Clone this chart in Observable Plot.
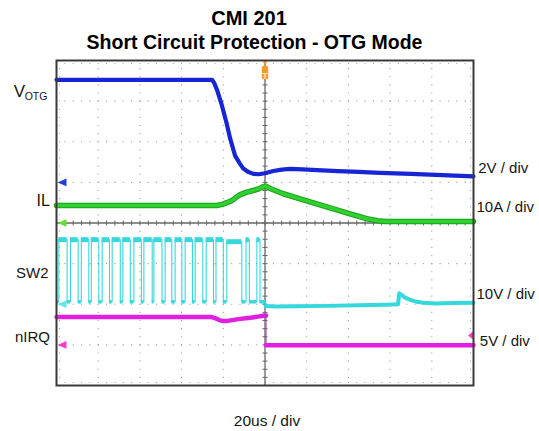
<!DOCTYPE html>
<html><head><meta charset="utf-8">
<script src="https://cdn.jsdelivr.net/npm/d3@7"></script>
<script src="https://cdn.jsdelivr.net/npm/@observablehq/plot@0.6"></script>
<style>
html,body{margin:0;padding:0;background:#fff;}
#chart{width:539px;height:431px;}
</style></head><body><div id="chart"></div>
<script>
// ---------- data ----------
const titleLines = ["CMI 201", "Short Circuit Protection - OTG Mode"];
const timeLabel = "20us / div";
const channelNames = ["V", "IL", "SW2", "nIRQ"];
const channelSub = ["OTG", "", "", ""];
const scaleLabels = ["2V / div", "10A / div", "10V / div", "5V / div"];
const unitsPerDiv = [2, 10, 10, 5];
const groundDiv = [1, 0, -2, -3];
const triggerTime = 0;
const nirqTriggerLevel = 1.15;

// VOTG (V) vs time (us)
const votgTime  = [-100, -25.4, -24.4, -23.0, -20.7, -18.5, -16.7, -14.3, -12.2, -10.4, -8.2, -5.6, -3.0, 0, 4, 8, 12, 18, 25, 35, 45, 55, 70, 85, 100];
const votgValue = [5.05, 5.05, 4.9, 4.55, 3.8, 2.95, 2.15, 1.3, 0.95, 0.68, 0.52, 0.42, 0.40, 0.45, 0.56, 0.63, 0.66, 0.64, 0.60, 0.55, 0.52, 0.47, 0.42, 0.36, 0.30];

// IL (A)
const ilTime  = [-100, -23.1, -20.5, -18.3, -15.9, -13.8, -11.9, -8.7, -5.6, -3.0, -1.0, 0.3, 2.4, 8.8, 16.8, 24.8, 32.8, 40.8, 48.8, 54, 58, 62, 100];
const ilValue = [4.3, 4.3, 4.6, 5.0, 5.5, 6.3, 7.0, 7.6, 8.0, 8.4, 8.9, 9.1, 8.5, 7.2, 5.95, 4.7, 3.5, 2.25, 1.05, 0.55, 0.35, 0.35, 0.35];

// SW2 (V) switching pulses before trigger
const sw2Rise = [-98.9, -93.3, -88.1, -83.3, -78.1, -73.3, -68.2, -62.9, -58.1, -53.3, -47.9, -43.1, -38.3, -33.5, -28.2, -23.5, -18.3, -9.1, -3.9];
const sw2Fall = [-94.9, -89.6, -84.5, -79.7, -74.6, -69.4, -64.6, -59.3, -54.1, -49.4, -44.7, -39.9, -34.8, -29.8, -24.7, -20.0, -11.1, -7.5, -2.4];
const sw2HighValue = [15.9, 15.9, 15.9, 15.9, 15.9, 15.9, 15.9, 15.9, 15.9, 15.9, 15.9, 15.9, 15.9, 15.9, 15.9, 15.9, 15.4, 15.9, 15.9];
const sw2LowValue = 0.6;
// SW2 after trigger
const sw2PostTime  = [0.3, 5, 15, 30, 45, 58, 63.8, 64.4, 65.5, 67, 69, 72, 76, 82, 90, 100];
const sw2PostValue = [-0.45, -0.55, -0.5, -0.4, -0.25, -0.1, 0.0, 2.7, 2.3, 1.7, 1.2, 0.7, 0.35, 0.2, 0.3, 0.35];

// nIRQ (V)
const nirqPreTime   = [-100, -25.5, -24, -22, -20, -18, -15, -12, -8, -4, -1, 0.5];
const nirqPreValue  = [3.42, 3.42, 3.3, 3.05, 2.93, 2.95, 3.08, 3.2, 3.32, 3.45, 3.58, 3.62];
const nirqPostTime  = [0.5, 25, 50, 75, 100];
const nirqPostValue = [-0.05, -0.06, -0.05, -0.05, -0.06];

// ---------- styling ----------
const colors = ["#1626d4", "#2fd12f", "#36d8de", "#e01fe0"];
const markerColors = ["#1f3fd8", "#66dd33", "#5fe6ee", "#f040c8"];
const font = "'Liberation Sans', Arial, Helvetica, sans-serif";

// ---------- derived ----------
const toDiv = (ch, v) => groundDiv[ch] + v / unitsPerDiv[ch];
const series = (ch, ts, vs) => ts.map((t, i) => ({t, y: toDiv(ch, vs[i])}));
const votg = series(0, votgTime, votgValue);
const il = series(1, ilTime, ilValue);
const nirqPre = series(3, nirqPreTime, nirqPreValue);
const nirqPost = series(3, nirqPostTime, nirqPostValue);
const sw2Post = series(2, sw2PostTime, sw2PostValue);
const lowY = toDiv(2, sw2LowValue);
const sw2Wave = [{t: -100, y: lowY}];
sw2Rise.forEach((r, i) => {
  const hy = toDiv(2, sw2HighValue[i]);
  sw2Wave.push({t: r, y: lowY}, {t: r, y: hy}, {t: sw2Fall[i], y: hy}, {t: sw2Fall[i], y: lowY});
});
sw2Wave.push({t: sw2PostTime[0], y: lowY}, sw2Post[0]);
const sw2Caps = sw2Rise.map((r, i) => ({x1: r, x2: sw2Fall[i], y: toDiv(2, sw2HighValue[i])}));
const sw2Lows = [{x1: -100, x2: sw2Rise[0], y: lowY}];
sw2Fall.forEach((f, i) => sw2Lows.push({x1: f, x2: i + 1 < sw2Rise.length ? sw2Rise[i + 1] : sw2PostTime[0], y: lowY}));

// graticule
const gridDots = [];
for (let k = -4; k <= 4; k++) if (k !== 0) for (let j = 0; j <= 40; j++) gridDots.push({t: k * 20, y: -4 + j * 0.2});
for (let k = -3; k <= 3; k++) if (k !== 0) for (let j = 0; j <= 50; j++) gridDots.push({t: -100 + j * 4, y: k});
const vSteps = d3.range(0, 41).map(j => -4 + j * 0.2);
const hSteps = d3.range(0, 51).map(j => -100 + j * 4);

const arrowLeft = {draw(ctx) { ctx.moveTo(-4.5, 0); ctx.lineTo(4.5, -3.8); ctx.lineTo(4.5, 3.8); ctx.closePath(); }};
const smallArrowLeft = {draw(ctx) { ctx.moveTo(-2.5, 0); ctx.lineTo(2.5, -4); ctx.lineTo(2.5, 4); ctx.closePath(); }};
const hTick = {draw(ctx) { ctx.moveTo(-2.5, 0); ctx.lineTo(2.5, 0); }};
const vTick = {draw(ctx) { ctx.moveTo(0, -2.5); ctx.lineTo(0, 2.5); }};
const sq = {draw(ctx) { ctx.rect(-0.55, -0.55, 1.1, 1.1); }};
const trigSym = {draw(ctx) {
  const w = 3.2, h = 7, r = 2.5;
  ctx.moveTo(-w + r, -h); ctx.lineTo(w - r, -h); ctx.arcTo(w, -h, w, -h + r, r);
  ctx.lineTo(w, h - r); ctx.arcTo(w, h, w - r, h, r); ctx.lineTo(-w + r, h);
  ctx.arcTo(-w, h, -w, h - r, r); ctx.lineTo(-w, -h + r); ctx.arcTo(-w, -h, -w + r, -h, r); ctx.closePath();
  ctx.moveTo(-2.6, -10.8); ctx.lineTo(2.6, -10.8); ctx.lineTo(0, -8.2); ctx.closePath();
}};

const txt = (s, o) => Plot.text([s], {text: d => d, lineAnchor: "bottom", fill: "#151515", stroke: null, ...o});

const chart = Plot.plot({
  width: 539, height: 431,
  marginTop: 60, marginLeft: 56, marginRight: 66, marginBottom: 46,
  x: {domain: [-100, 100], axis: null},
  y: {domain: [-4, 4], axis: null},
  style: {fontFamily: font, background: "#fff", overflow: "visible"},
  marks: [
    // graticule
    Plot.dot(gridDots, {x: "t", y: "y", symbol: sq, fill: "#a0a0a0", stroke: null}),
    Plot.dot(hSteps, {x: d => d, y: () => 4, dy: 3, symbol: sq, fill: "#a8a8a8", stroke: null}),
    Plot.dot(hSteps, {x: d => d, y: () => -4, dy: -3, symbol: sq, fill: "#a8a8a8", stroke: null}),
    Plot.dot(vSteps, {y: d => d, x: () => -100, dx: 3, symbol: sq, fill: "#a8a8a8", stroke: null}),
    Plot.dot(vSteps, {y: d => d, x: () => 100, dx: -3, symbol: sq, fill: "#a8a8a8", stroke: null}),
    Plot.ruleX([triggerTime], {stroke: "#666", strokeWidth: 1.3}),
    Plot.ruleY([0], {stroke: "#666", strokeWidth: 1.3}),
    Plot.dot(vSteps, {x: () => 0, y: d => d, symbol: hTick, fill: "none", stroke: "#666", strokeWidth: 1}),
    Plot.dot(hSteps, {x: d => d, y: () => 0, symbol: vTick, fill: "none", stroke: "#666", strokeWidth: 1}),

    // SW2
    Plot.line(sw2Wave, {x: "t", y: "y", stroke: colors[2], strokeWidth: 1.1, curve: "linear"}),
    Plot.ruleY(sw2Caps, {x1: "x1", x2: "x2", y: "y", stroke: colors[2], strokeWidth: 5}),
    Plot.ruleY(sw2Lows, {x1: "x1", x2: "x2", y: "y", stroke: colors[2], strokeWidth: 3.5}),
    Plot.line(sw2Post, {x: "t", y: "y", stroke: colors[2], strokeWidth: 4}),

    // nIRQ
    Plot.line(nirqPre, {x: "t", y: "y", stroke: colors[3], strokeWidth: 4.5}),
    Plot.ruleX([nirqPost[0]], {x: "t", y1: () => nirqPre[nirqPre.length - 1].y, y2: "y", stroke: "#a040a0", strokeWidth: 1}),
    Plot.line(nirqPost, {x: "t", y: "y", stroke: colors[3], strokeWidth: 4.5}),

    // IL
    Plot.line(il, {x: "t", y: "y", stroke: "#1e9e1e", strokeWidth: 5.5, strokeLinejoin: "round"}),
    Plot.line(il, {x: "t", y: "y", stroke: colors[1], strokeWidth: 3.5, strokeLinejoin: "round"}),

    // VOTG
    Plot.line(votg, {x: "t", y: "y", stroke: colors[0], strokeWidth: 4.2, strokeLinejoin: "round"}),

    // ground markers
    ...groundDiv.map((g, i) => Plot.dot([g], {y: d => d, frameAnchor: "left", dx: 5.5, symbol: arrowLeft, fill: markerColors[i], stroke: null})),
    Plot.dot([toDiv(3, nirqTriggerLevel)], {y: d => d, frameAnchor: "right", dx: -3, symbol: smallArrowLeft, fill: markerColors[3], stroke: null}),

    // trigger marker
    Plot.dot([triggerTime], {x: d => d, frameAnchor: "top", dy: 12, symbol: trigSym, fill: "#f39a2b", stroke: null}),
    Plot.text([triggerTime], {x: d => d, frameAnchor: "top", dy: 12, text: () => "T", fill: "#ffe6b8", fontSize: 9, fontWeight: "bold"}),

    Plot.frame({stroke: "#3a3a3a", strokeWidth: 2}),

    // titles
    txt(titleLines[0], {frameAnchor: "top", dx: -16, dy: -36, fontSize: 20, fontWeight: "bold", fill: "#000"}),
    txt(titleLines[1], {frameAnchor: "top", dx: -10.5, dy: -12, fontSize: 19.5, fontWeight: "bold", fill: "#000"}),
    txt(timeLabel, {frameAnchor: "bottom", dx: 2, dy: 40, fontSize: 15.5}),

    // channel names (left)
    txt(channelNames[0], {frameAnchor: "top-left", textAnchor: "start", dx: -42.7, dy: 36, fontSize: 17}),
    txt(channelSub[0], {frameAnchor: "top-left", textAnchor: "start", dx: -31.8, dy: 39.3, fontSize: 10.5}),
    txt(channelNames[1], {frameAnchor: "top-left", textAnchor: "end", dx: -6.7, dy: 145, fontSize: 16}),
    txt(channelNames[2], {frameAnchor: "top-left", textAnchor: "end", dx: -8, dy: 217.5, fontSize: 15}),
    txt(channelNames[3], {frameAnchor: "top-left", textAnchor: "end", dx: -6.5, dy: 281.5, fontSize: 15}),

    // scale labels (right)
    txt(scaleLabels[0], {frameAnchor: "top-right", textAnchor: "start", dx: 4.7, dy: 112, fontSize: 15}),
    txt(scaleLabels[1], {frameAnchor: "top-right", textAnchor: "start", dx: 3, dy: 151.7, fontSize: 15}),
    txt(scaleLabels[2], {frameAnchor: "top-right", textAnchor: "start", dx: 3, dy: 238, fontSize: 15}),
    txt(scaleLabels[3], {frameAnchor: "top-right", textAnchor: "start", dx: 6.3, dy: 285, fontSize: 15})
  ]
});
document.getElementById("chart").append(chart);
</script>
</body></html>
